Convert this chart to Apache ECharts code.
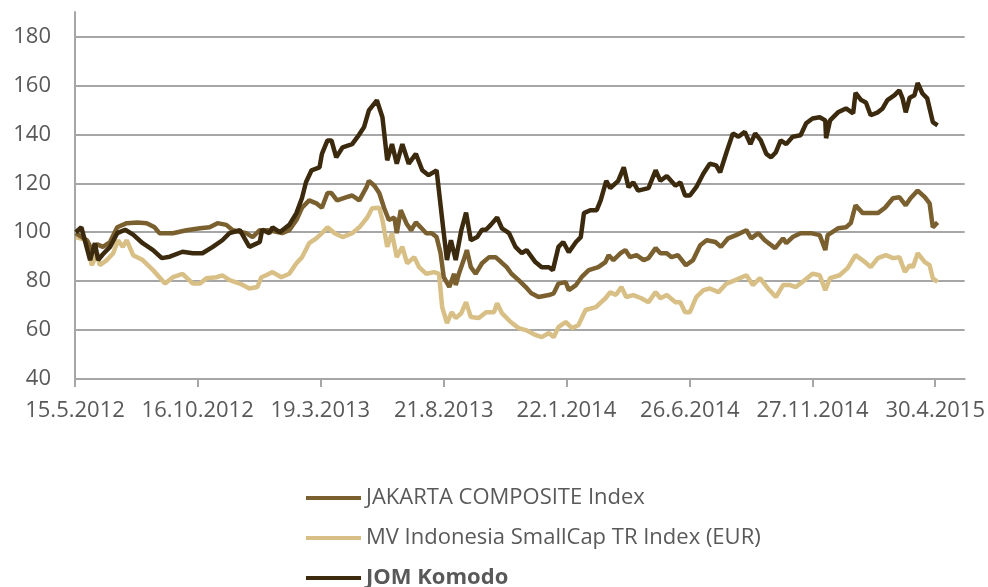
<!DOCTYPE html>
<html>
<head>
<meta charset="utf-8">
<script src="https://cdn.jsdelivr.net/npm/echarts@6/dist/echarts.min.js"></script>
<style>
html, body { margin: 0; padding: 0; background: #fff; }
#main { width: 988px; height: 587px; }
</style>
</head>
<body>
<div id="main"></div>
<script>
// x values are days since 15.5.2012
const startDate = Date.UTC(2012, 4, 15);
const xTicks = [0, 154, 308, 463, 617, 772, 926, 1080];
const yTicks = [40, 60, 80, 100, 120, 140, 160, 180];

const names = ['JAKARTA COMPOSITE Index', 'MV Indonesia SmallCap TR Index (EUR)', 'JOM Komodo'];

// JOM Komodo
const komodoDays = [1, 8, 19, 25, 29, 35, 44, 53, 63, 73, 85, 98, 109, 119, 135, 148, 160, 173, 185, 194,
  207, 219, 232, 235, 244, 248, 257, 269, 278, 285, 290, 297, 307, 310, 317, 322, 328, 336, 348, 357,
  363, 369, 379, 386, 392, 398, 404, 411, 419, 428, 436, 444, 454, 463, 467, 472, 478, 485, 491, 497,
  505, 511, 516, 522, 530, 536, 545, 553, 561, 567, 578, 586, 595, 600, 607, 613, 620, 629, 635, 639,
  647, 655, 660, 667, 672, 682, 689, 695, 701, 707, 720, 729, 735, 743, 754, 760, 766, 772, 780, 789,
  797, 805, 810, 818, 826, 833, 841, 848, 854, 861, 868, 874, 880, 886, 893, 901, 911, 918, 926, 935,
  942, 943, 948, 958, 968, 977, 980, 987, 993, 999, 1008, 1014, 1020, 1029, 1035, 1039, 1043, 1048, 1054, 1058,
  1064, 1070, 1077, 1083];
const komodoVals = [100, 102, 88.6, 95.5, 88.6, 91, 94, 99.6, 101, 99, 95.5, 92.7, 89.4, 90, 92, 91.4, 91.4, 94, 96.7, 99.6,
  100.8, 94, 96, 101, 99.6, 102, 100, 103, 107.8, 114, 120.4, 125.3, 126.5, 132, 137.5, 137.5, 130.6, 134.7, 136, 140,
  143, 149.8, 153.9, 147, 129.4, 136, 128, 136, 128, 132, 125.3, 123.3, 125.3, 99.6, 88.6, 96.7, 88.6, 100.8, 108, 96.7,
  98, 101, 101, 103, 106, 101.6, 99.6, 94, 91.4, 92.7, 87.8, 85.7, 85.7, 84.5, 94, 96, 91.8, 96, 98, 107.8,
  109, 109, 113, 121, 118, 121, 126.5, 118.4, 120.4, 117, 118, 125.3, 121, 123, 119, 120.4, 115, 115, 118.4, 124,
  128, 127.3, 124.5, 132.7, 140.4, 139, 141, 136, 140.4, 137.5, 132, 130.6, 132.7, 137.5, 136, 139, 139.6, 144.5, 146.5, 147,
  145.7, 138.4, 145.7, 149, 150.6, 148.6, 157, 154, 153, 147.8, 149, 150.6, 154, 156, 158, 154.7, 149, 155, 156, 161,
  156.7, 154.7, 145, 143.7];

// JAKARTA COMPOSITE Index
const jakartaDays = [1, 15, 21, 28, 35, 44, 53, 65, 78, 90, 100, 106, 123, 140, 157, 169, 179, 190, 198, 215,
  223, 232, 244, 260, 269, 278, 285, 294, 303, 310, 317, 322, 329, 341, 348, 357, 366, 369, 376, 382,
  388, 394, 401, 404, 409, 416, 422, 428, 434, 441, 448, 454, 459, 463, 470, 476, 478, 482, 488, 492,
  497, 503, 511, 520, 528, 535, 542, 548, 557, 566, 573, 582, 595, 601, 607, 616, 620, 629, 636, 645,
  657, 666, 670, 676, 685, 691, 697, 705, 714, 720, 729, 735, 743, 749, 757, 767, 776, 785, 793, 804,
  811, 820, 830, 843, 849, 858, 866, 879, 889, 893, 901, 911, 924, 935, 942, 945, 958, 968, 974, 980,
  989, 999, 1008, 1017, 1027, 1035, 1043, 1049, 1058, 1067, 1073, 1077, 1083];
const jakartaVals = [99.6, 96.7, 93, 95, 94, 96, 102, 103.7, 104, 103.7, 102, 99.6, 99.6, 100.8, 101.6, 102, 103.7, 103, 100.8, 99.6,
  98, 100.8, 100.8, 99.6, 100.8, 105, 110, 113, 111.8, 110, 116, 116, 113, 114.3, 115, 113, 118.4, 121, 119, 116,
  110, 105, 106, 99.6, 109, 103.7, 100.8, 104, 102, 99.6, 99.6, 98, 91.4, 81.6, 77.6, 83, 78.4, 83, 88.6, 92.7,
  85.7, 83, 87.3, 89.8, 89.8, 87.8, 85.7, 83, 80.4, 77.6, 75, 73.5, 74.3, 75, 79, 79.6, 76.3, 78.4, 81.6, 84.5,
  85.7, 87.8, 90.6, 88.6, 91.4, 92.7, 89.8, 90.6, 88.6, 89.4, 93.5, 91.4, 91.4, 89.8, 90.6, 86.5, 88.6, 94.7, 96.7, 96,
  94, 97.5, 98.8, 100.8, 97.5, 99.6, 96.7, 93.5, 97.5, 95.5, 98, 99.6, 99.6, 98.8, 92.7, 98.8, 101.6, 102, 103.7, 111,
  107.8, 107.8, 107.8, 110, 113.9, 114.3, 111, 113.9, 117, 114.3, 111.8, 102, 104];

// MV Indonesia SmallCap TR Index (EUR)
const mvDays = [1, 15, 21, 28, 31, 40, 48, 54, 60, 65, 73, 85, 98, 106, 113, 123, 135, 148, 157, 165,
  178, 185, 194, 207, 219, 229, 234, 240, 248, 259, 269, 278, 285, 294, 303, 310, 317, 326, 336, 348,
  357, 367, 373, 382, 386, 392, 398, 404, 411, 417, 426, 432, 441, 451, 457, 461, 467, 473, 478, 485,
  491, 497, 507, 516, 526, 530, 536, 547, 557, 566, 578, 586, 595, 601, 607, 616, 624, 632, 641, 654,
  666, 672, 679, 686, 692, 701, 711, 720, 729, 735, 743, 754, 760, 766, 772, 780, 789, 797, 808, 818,
  829, 843, 851, 860, 870, 880, 889, 898, 905, 916, 926, 935, 942, 948, 960, 970, 980, 992, 999, 1008,
  1018, 1027, 1035, 1042, 1048, 1052, 1058, 1067, 1073, 1077, 1083];
const mvVals = [98, 96.7, 86.5, 91.4, 86.5, 88.6, 91.4, 96.7, 94, 96.7, 90.6, 88.6, 84.5, 81.6, 79, 81.6, 83, 79, 79, 81.2,
  81.6, 82.4, 80.4, 79, 77, 77.6, 81.6, 82.4, 83.7, 81.6, 83, 87.3, 89.8, 95.5, 97.5, 99.6, 102, 99.6, 98, 99.6,
  102, 106, 109.8, 110, 105, 94, 99.6, 89.8, 94, 87.3, 89.8, 85.7, 83, 83.7, 83, 69.4, 62.8, 67.3, 64.9, 66.9,
  71.4, 65.3, 64.9, 67.3, 67.3, 71, 66.9, 63.3, 60.8, 60, 58, 57.1, 58.8, 57.1, 61.2, 63.3, 60.8, 62, 68.2, 69.4,
  73, 75.5, 74.3, 77.6, 73.5, 74.3, 73, 71.4, 75.5, 73, 74.3, 71.4, 71.4, 67.3, 67.3, 73.5, 76.3, 77, 75.5, 79,
  80.4, 82.4, 78.4, 81.2, 77, 73.5, 78.4, 78.4, 77.6, 80.4, 83, 82.4, 76.3, 81.2, 82.4, 85.3, 90.6, 87.8, 85.7, 89.4,
  90.6, 89.4, 89.8, 83.7, 86.5, 85.7, 91.4, 87.8, 86.5, 81.2, 79.6];

const colors = { jakarta: '#7a5f2f', mv: '#d8bf86', komodo: '#3c2a0e' };

const zip = (xs, ys) => xs.map((x, i) => [x, ys[i]]);

const fmtDay = (d) => {
  const t = new Date(startDate + d * 86400000);
  return t.getUTCDate() + '.' + (t.getUTCMonth() + 1) + '.' + t.getUTCFullYear();
};

const gridGray = '#a6a6a6';
const labelGray = '#595959';
const fontFam = '"Open Sans", "Noto Sans", sans-serif';

const chart = echarts.init(document.getElementById('main'));
chart.setOption({
  animation: false,
  grid: { left: 75, right: 23, top: 12, bottom: 208, containLabel: false },
  xAxis: {
    type: 'value',
    min: 0,
    max: 1117,
    axisLine: { lineStyle: { color: gridGray, width: 2 } },
    axisTick: { show: true, length: 8, customValues: xTicks, lineStyle: { color: gridGray, width: 2 } },
    axisLabel: { customValues: xTicks, formatter: fmtDay, color: labelGray, fontSize: 22, fontFamily: fontFam, margin: 21 },
    splitLine: { show: false }
  },
  yAxis: {
    type: 'value',
    min: 40,
    max: 190,
    axisLine: { show: true, lineStyle: { color: gridGray, width: 2 } },
    axisTick: { show: false, customValues: yTicks },
    axisLabel: { customValues: yTicks, color: labelGray, fontSize: 22, fontFamily: fontFam, margin: 24 },
    splitLine: { show: true, lineStyle: { color: gridGray, width: 2 } }
  },
  legend: {
    orient: 'vertical',
    left: 301,
    top: 480,
    height: 200,
    itemWidth: 55,
    itemHeight: 4,
    itemGap: 14,
    icon: 'rect',
    textStyle: { color: labelGray, fontSize: 22, lineHeight: 26, fontFamily: fontFam },
    data: [
      { name: names[0] },
      { name: names[1] },
      { name: names[2], textStyle: { fontWeight: 'bold' } }
    ]
  },
  series: [
    { name: names[1], type: 'line', data: zip(mvDays, mvVals), showSymbol: false, symbol: 'none',
      lineStyle: { color: colors.mv, width: 4.5 }, itemStyle: { color: colors.mv } },
    { name: names[0], type: 'line', data: zip(jakartaDays, jakartaVals), showSymbol: false, symbol: 'none',
      lineStyle: { color: colors.jakarta, width: 4.5 }, itemStyle: { color: colors.jakarta } },
    { name: names[2], type: 'line', data: zip(komodoDays, komodoVals), showSymbol: false, symbol: 'none',
      lineStyle: { color: colors.komodo, width: 4.5 }, itemStyle: { color: colors.komodo } }
  ]
});
</script>
</body>
</html>
